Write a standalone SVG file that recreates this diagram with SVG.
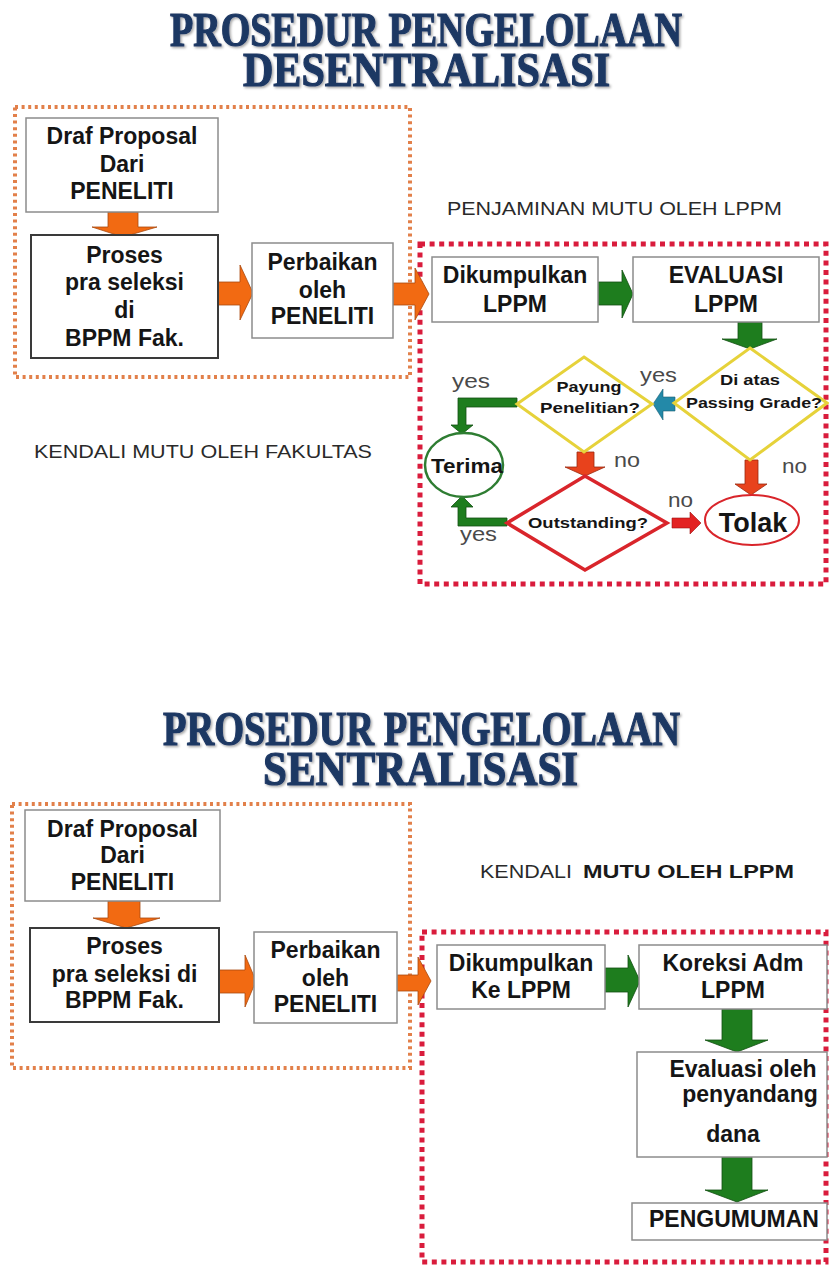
<svg xmlns="http://www.w3.org/2000/svg" width="829" height="1266" viewBox="0 0 829 1266">
<style>
.title{font-family:"Liberation Serif","Times New Roman",serif;font-weight:bold;font-size:48px;fill:#1f3864;stroke:#1f3864;stroke-width:1.2;}
.bx{fill:#fff;stroke:#8c8c8c;stroke-width:1.5;}
.bxd{fill:#fff;stroke:#3a3a3a;stroke-width:2;}
.t{font-family:"Liberation Sans",Arial,sans-serif;font-weight:bold;font-size:23px;fill:#151515;text-anchor:middle;}
.td{font-family:"Liberation Sans",Arial,sans-serif;font-weight:bold;font-size:15px;fill:#151515;text-anchor:middle;}
.lbl{font-family:"Liberation Sans",Arial,sans-serif;font-size:18px;fill:#2a2a2a;}
.lblb{font-family:"Liberation Sans",Arial,sans-serif;font-weight:bold;font-size:18px;fill:#1a1a1a;}
.yn{font-family:"Liberation Sans",Arial,sans-serif;font-size:21px;fill:#4a4a4a;}
.odot{fill:none;stroke:#e2804a;stroke-width:4;stroke-dasharray:3 3.6;}
.rdot{fill:none;stroke:#d91c3c;stroke-width:5;stroke-dasharray:5 4.6;}
.ora{fill:#f26a12;stroke:#a84a10;stroke-width:0.8;}
.grn{fill:#1e7d1e;stroke:#124f12;stroke-width:0.8;}
.red{fill:#e8421c;stroke:#9a2a10;stroke-width:0.8;}
.rd2{fill:#e32222;stroke:#9a1010;stroke-width:0.6;}
.blu{fill:#2389a8;stroke:#1a5f74;stroke-width:0.6;}
.ydia{fill:#fff;stroke:#e6d23a;stroke-width:3;}
.rdia{fill:#fff;stroke:#d9252b;stroke-width:3.5;}
</style>
<defs>
<filter id="sh" x="-5%" y="-20%" width="110%" height="140%">
<feDropShadow dx="1.5" dy="1.5" stdDeviation="1" flood-color="#000" flood-opacity="0.35"/>
</filter>
</defs>
<rect width="829" height="1266" fill="#fff"/>

<!-- Titles -->
<g id="title1" filter="url(#sh)">
<text class="title"><tspan x="170" y="46" textLength="512" lengthAdjust="spacingAndGlyphs">PROSEDUR PENGELOLAAN</tspan><tspan x="243" y="86" textLength="367" lengthAdjust="spacingAndGlyphs">DESENTRALISASI</tspan></text>
</g>
<g id="title2" filter="url(#sh)">
<text class="title"><tspan x="163" y="745" textLength="517" lengthAdjust="spacingAndGlyphs">PROSEDUR PENGELOLAAN</tspan><tspan x="263" y="785" textLength="315" lengthAdjust="spacingAndGlyphs">SENTRALISASI</tspan></text>
</g>

<!-- Region borders -->
<g id="regions">
<rect class="odot" x="15" y="107" width="395" height="270"/>
<rect class="rdot" x="420" y="244" width="406" height="340"/>
<rect class="odot" x="12" y="804" width="398" height="264"/>
<rect class="rdot" x="422" y="932" width="404" height="330"/>
</g>

<g id="labels">
<text class="lbl" x="447" y="215" textLength="335" lengthAdjust="spacingAndGlyphs">PENJAMINAN MUTU OLEH LPPM</text>
<text class="lbl" x="34" y="458" textLength="338" lengthAdjust="spacingAndGlyphs">KENDALI MUTU OLEH FAKULTAS</text>
<text class="lbl" x="480" y="878" textLength="92" lengthAdjust="spacingAndGlyphs">KENDALI</text>
<text class="lblb" x="583" y="878" textLength="211" lengthAdjust="spacingAndGlyphs">MUTU OLEH LPPM</text>
</g>

<!-- Connectors -->
<g id="connectors">
<!-- section 1 -->
<polygon class="ora" points="108,212 138,212 138,227 157,227 123,237 92,227 108,227"/>
<polygon class="ora" points="218,282 240,282 240,265 253,293 240,320 240,305 218,305"/>
<polygon class="ora" points="393,283 415,283 415,268 429,294 415,320 415,305 393,305"/>
<polygon class="grn" points="598,282 622,282 622,270 633,294 622,318 622,305 598,305"/>
<polygon class="grn" points="738,322 762,322 762,339 777,339 750,349 722,339 738,339"/>
<polygon class="blu" points="675,397 663,397 663,389 653,404 663,420 663,411 675,411"/>
<polygon class="grn" points="517,398 458,398 458,425 451,425 462,434 473,425 466,425 466,407 517,407"/>
<polygon class="grn" points="507,518 466,518 466,507 473,507 462,496 451,507 458,507 458,526 507,526"/>
<polygon class="red" points="577,452 594,452 594,467 605,467 585,476 565,467 577,467"/>
<polygon class="rd2" points="672,518 690,518 690,512 701,523 690,534 690,528 672,528"/>
<polygon class="red" points="745,460 758,460 758,484 767,484 751,495 735,484 745,484"/>
<!-- section 2 -->
<polygon class="ora" points="108,901 140,901 140,918 160,918 126,928 93,918 108,918"/>
<polygon class="ora" points="219,970 245,970 245,955 256,981 245,1007 245,993 219,993"/>
<polygon class="ora" points="397,975 418,975 418,957 431,981 418,1005 418,991 397,991"/>
<polygon class="grn" points="605,968 628,968 628,955 640,981 628,1007 628,992 605,992"/>
<polygon class="grn" points="722,1009 752,1009 752,1040 768,1040 737,1052 705,1040 722,1040"/>
<polygon class="grn" points="722,1157 752,1157 752,1190 768,1190 737,1202 705,1190 722,1190"/>
</g>

<!-- Section 1 nodes -->
<g id="draf1">
<rect class="bx" x="26" y="118" width="192" height="94"/>
<text class="t" x="122" y="144">Draf Proposal</text>
<text class="t" x="122" y="172">Dari</text>
<text class="t" x="122" y="199">PENELITI</text>
</g>
<g id="proses1">
<rect class="bxd" x="31" y="235" width="187" height="123"/>
<text class="t" x="124.5" y="263">Proses</text>
<text class="t" x="124.5" y="290">pra seleksi</text>
<text class="t" x="124.5" y="318">di</text>
<text class="t" x="124.5" y="346">BPPM Fak.</text>
</g>
<g id="perbaikan1">
<rect class="bx" x="252" y="243" width="141" height="95"/>
<text class="t" x="322.5" y="270">Perbaikan</text>
<text class="t" x="322.5" y="298">oleh</text>
<text class="t" x="322.5" y="324">PENELITI</text>
</g>
<g id="dikumpulkan1">
<rect class="bx" x="432" y="257" width="166" height="65"/>
<text class="t" x="515" y="283">Dikumpulkan</text>
<text class="t" x="515" y="312">LPPM</text>
</g>
<g id="evaluasi1">
<rect class="bx" x="633" y="257" width="186" height="65"/>
<text class="t" x="726" y="283">EVALUASI</text>
<text class="t" x="726" y="312">LPPM</text>
</g>
<g id="passing">
<polygon class="ydia" points="750,348 827,403 750,460 674,403"/>
<text class="td" x="750" y="385" textLength="60" lengthAdjust="spacingAndGlyphs">Di atas</text>
<text class="td" x="754" y="408" textLength="136" lengthAdjust="spacingAndGlyphs">Passing Grade?</text>
</g>
<g id="payung">
<polygon class="ydia" points="584,357 652,404 584,452 517,404"/>
<text class="td" x="589" y="392" textLength="65" lengthAdjust="spacingAndGlyphs">Payung</text>
<text class="td" x="590" y="413" textLength="100" lengthAdjust="spacingAndGlyphs">Penelitian?</text>
</g>
<g id="outstanding">
<polygon class="rdia" points="585,476 667,523 585,570 507,523"/>
<text class="td" x="588" y="528" textLength="120" lengthAdjust="spacingAndGlyphs">Outstanding?</text>
</g>
<g id="terima">
<ellipse cx="464" cy="465" rx="39" ry="32" fill="#fff" stroke="#2e7d32" stroke-width="2.5"/>
<text class="t" x="467" y="473" style="font-size:21px" textLength="72" lengthAdjust="spacingAndGlyphs">Terima</text>
</g>
<g id="tolak">
<ellipse cx="752" cy="520" rx="47" ry="25" fill="#fff" stroke="#d9252b" stroke-width="2"/>
<text class="t" x="753" y="532" style="font-size:27px">Tolak</text>
</g>
<g id="yesno">
<text class="yn" x="452" y="388" textLength="38" lengthAdjust="spacingAndGlyphs">yes</text>
<text class="yn" x="640" y="382" textLength="37" lengthAdjust="spacingAndGlyphs">yes</text>
<text class="yn" x="614" y="467" textLength="26" lengthAdjust="spacingAndGlyphs">no</text>
<text class="yn" x="782" y="473" textLength="25" lengthAdjust="spacingAndGlyphs">no</text>
<text class="yn" x="668" y="507" textLength="25" lengthAdjust="spacingAndGlyphs">no</text>
<text class="yn" x="460" y="541" textLength="37" lengthAdjust="spacingAndGlyphs">yes</text>
</g>

<!-- Section 2 nodes -->
<g id="draf2">
<rect class="bx" x="25" y="810" width="195" height="91"/>
<text class="t" x="122.5" y="837">Draf Proposal</text>
<text class="t" x="122.5" y="863">Dari</text>
<text class="t" x="122.5" y="890">PENELITI</text>
</g>
<g id="proses2">
<rect class="bxd" x="30" y="928" width="189" height="94"/>
<text class="t" x="124.5" y="954">Proses</text>
<text class="t" x="124.5" y="982">pra seleksi di</text>
<text class="t" x="124.5" y="1008">BPPM Fak.</text>
</g>
<g id="perbaikan2">
<rect class="bx" x="254" y="932" width="143" height="91"/>
<text class="t" x="325.5" y="958">Perbaikan</text>
<text class="t" x="325.5" y="986">oleh</text>
<text class="t" x="325.5" y="1012">PENELITI</text>
</g>
<g id="dikumpulkan2">
<rect class="bx" x="437" y="945" width="168" height="64"/>
<text class="t" x="521" y="971">Dikumpulkan</text>
<text class="t" x="521" y="998">Ke LPPM</text>
</g>
<g id="koreksi">
<rect class="bx" x="639" y="945" width="188" height="64"/>
<text class="t" x="733" y="971">Koreksi Adm</text>
<text class="t" x="733" y="998">LPPM</text>
</g>
<g id="evaluasi2">
<rect class="bx" x="637" y="1052" width="190" height="105"/>
<text class="t" x="743" y="1077">Evaluasi oleh</text>
<text class="t" x="750" y="1102">penyandang</text>
<text class="t" x="733" y="1142">dana</text>
</g>
<g id="pengumuman">
<rect class="bx" x="632" y="1203" width="195" height="37"/>
<text class="t" x="734" y="1227">PENGUMUMAN</text>
</g>
</svg>
